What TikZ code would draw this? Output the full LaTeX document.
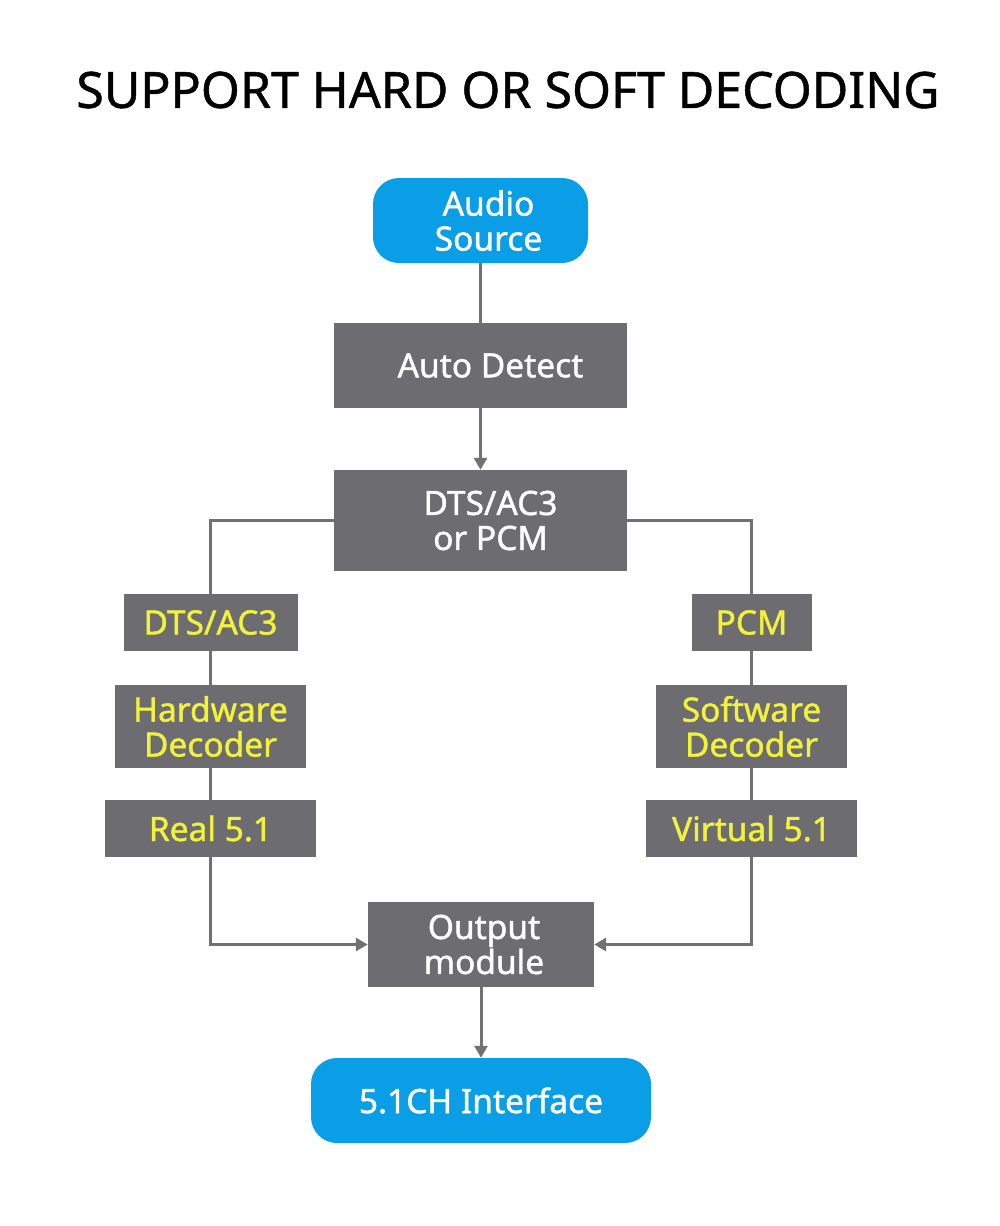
\documentclass[tikz,border=0pt]{standalone}
\usepackage{fontspec}
\setmainfont{Noto Sans}
\newfontfamily\medfont{Noto Sans}[FakeBold=1.3]
\newfontfamily\titlefont{Noto Sans}[FakeBold=1.0]
\usetikzlibrary{arrows.meta}
\definecolor{boxgray}{HTML}{6C6C71}
\definecolor{boxblue}{HTML}{0A9EE6}
\definecolor{txtyellow}{HTML}{F2F23C}
\definecolor{linegray}{HTML}{707075}
\tikzset{
  gbox/.style={fill=boxgray, draw=none, inner sep=0pt, align=center, text=white,
    font=\medfont\fontsize{33.5}{35}\selectfont},
  ybox/.style={gbox, text=txtyellow},
  bbox/.style={gbox, fill=boxblue, rounded corners=26pt},
  conn/.style={draw=linegray, line width=3pt},
  arr/.style={conn, -{Triangle[length=12pt,width=13pt]}},
}
\begin{document}
\begin{tikzpicture}[x=1pt,y=-1pt]
\useasboundingbox (0,0) rectangle (1000,1226);
\node[font=\titlefont\fontsize{50}{60}\selectfont, inner sep=0pt] (title) at (508,90) {SUPPORT HARD OR SOFT DECODING};

\node[bbox, minimum width=215pt, minimum height=85pt] (src) at (480.5,220.5) {\hspace*{16pt}Audio\\\hspace*{16pt}Source};
\node[gbox, minimum width=293pt, minimum height=85pt] (auto) at (480.5,365.5) {\hspace*{20pt}Auto Detect};
\node[gbox, minimum width=293pt, minimum height=101pt] (mid) at (480.5,520.5) {\hspace*{20pt}DTS/AC3\\\hspace*{20pt}or PCM};

\node[ybox, minimum width=174pt, minimum height=57pt] (dts) at (210.5,622.5) {DTS/AC3};
\node[ybox, minimum width=191pt, minimum height=83pt] (hw) at (210.5,726.5) {Hardware\\Decoder};
\node[ybox, minimum width=211pt, minimum height=57pt] (real) at (210.5,828.5) {Real 5.1};

\node[ybox, minimum width=120pt, minimum height=57pt] (pcm) at (751.5,622.5) {PCM};
\node[ybox, minimum width=191pt, minimum height=83pt] (sw) at (751.5,726.5) {Software\\Decoder};
\node[ybox, minimum width=211pt, minimum height=57pt] (virt) at (751.5,828.5) {Virtual 5.1};

\node[gbox, minimum width=226pt, minimum height=85pt] (out) at (481,944.5) {\hspace*{6pt}Output\\\hspace*{6pt}module};
\node[bbox, minimum width=340pt, minimum height=85pt] (iface) at (481,1100.5) {5.1CH Interface};

\draw[conn] (src.south) -- (auto.north);
\draw[arr] (auto.south) -- (mid.north);
\draw[conn] (mid.west) -| (dts.north);
\draw[conn] (dts.south) -- (hw.north);
\draw[conn] (hw.south) -- (real.north);
\draw[arr] (real.south) |- (out.west);
\draw[conn] (mid.east) -| (pcm.north);
\draw[conn] (pcm.south) -- (sw.north);
\draw[conn] (sw.south) -- (virt.north);
\draw[arr] (virt.south) |- (out.east);
\draw[arr] (out.south) -- (iface.north);
\end{tikzpicture}
\end{document}
